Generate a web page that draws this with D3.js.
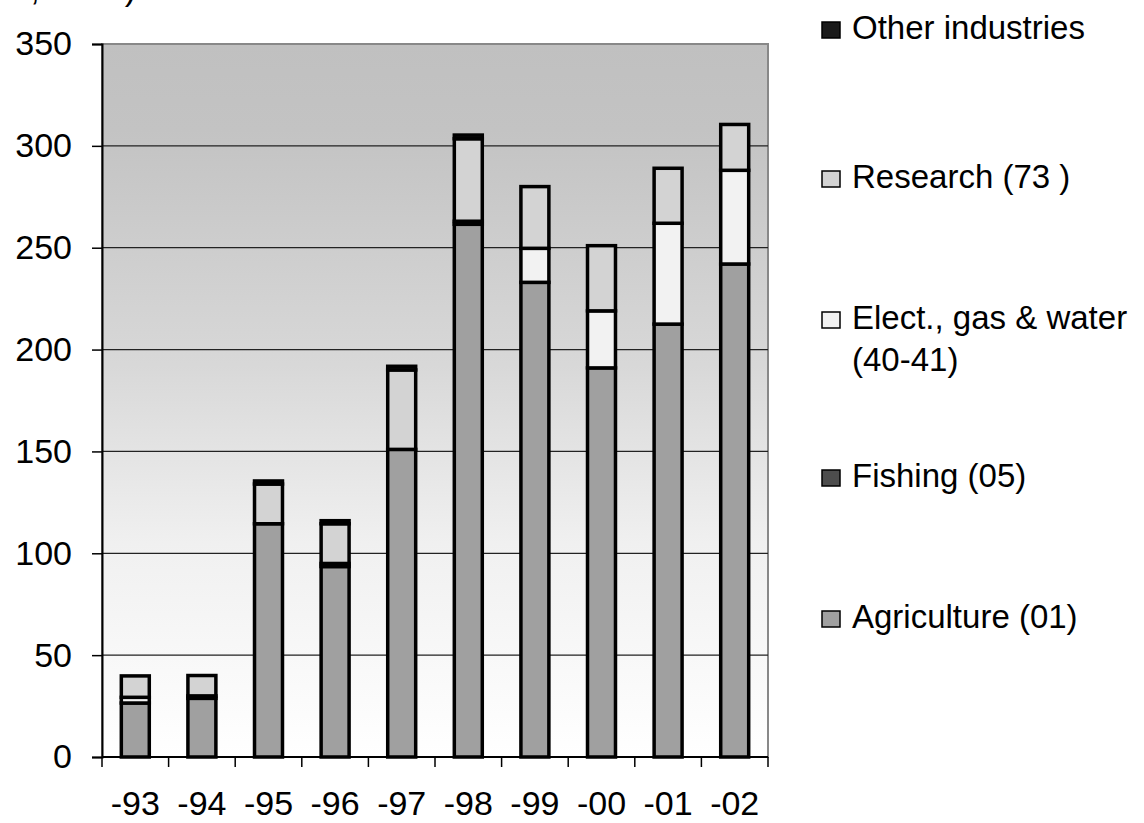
<!DOCTYPE html>
<html>
<head>
<meta charset="utf-8">
<script src="https://cdn.jsdelivr.net/npm/d3@7"></script>
<style>
  body { margin: 0; background: #fff; }
  text { font-family: "Liberation Sans", Arial, sans-serif; }
</style>
</head>
<body>
<svg id="chart" width="1144" height="823"></svg>
<script>
// categories (years) and tick values
var years = ['-93', '-94', '-95', '-96', '-97', '-98', '-99', '-00', '-01', '-02'];
var yTicks = [0, 50, 100, 150, 200, 250, 300, 350];

// series, bottom of the stack first
var seriesKeys = ['Agriculture (01)', 'Fishing (05)', 'Elect., gas & water (40-41)', 'Research (73 )', 'Other industries'];
var agriculture = [26.5, 28.8, 114.5, 93.5, 151, 261.5, 233, 191, 212.5, 242];
var fishing     = [0, 1.2, 0, 1.5, 0, 1.5, 0, 0, 0, 0];
var elect       = [2.8, 0, 0, 0, 0, 0, 16.7, 28, 49.5, 46];
var research    = [10.5, 10, 19.5, 19.5, 39, 40.5, 30.3, 32, 27, 22.5];
var other       = [0, 0, 1.5, 1.5, 1.8, 1.8, 0, 0, 0, 0];

var fills = ['#a0a0a0', '#4d4d4d', '#f2f2f2', '#d3d3d3', '#1a1a1a'];

document.addEventListener('DOMContentLoaded', function () {
    var rows = years.map(function (y, i) {
        var r = { year: y };
        r[seriesKeys[0]] = agriculture[i];
        r[seriesKeys[1]] = fishing[i];
        r[seriesKeys[2]] = elect[i];
        r[seriesKeys[3]] = research[i];
        r[seriesKeys[4]] = other[i];
        return r;
    });
    drawChart(rows);
});

function drawChart(rows) {
    const svg = d3.select('#chart');
    const margin = { top: 44, left: 102, right: 376, bottom: 66 };
    const width = 1144, height = 823;
    const x0 = margin.left, x1 = width - margin.right;
    const y0 = height - margin.bottom, y1 = margin.top;

    const x = d3.scaleBand().domain(years).range([x0, x1])
        .paddingInner(0.58).paddingOuter(0.29);
    const y = d3.scaleLinear().domain([0, 350]).range([y0, y1]);
    const color = d3.scaleOrdinal().domain(seriesKeys).range(fills);

    // plot background gradient
    const defs = svg.append('defs');
    const grad = defs.append('linearGradient').attr('id', 'bg')
        .attr('x1', 0).attr('y1', 0).attr('x2', 0).attr('y2', 1);
    grad.append('stop').attr('offset', '0%').attr('stop-color', '#c0c0c0');
    grad.append('stop').attr('offset', '12%').attr('stop-color', '#c3c3c3');
    grad.append('stop').attr('offset', '45%').attr('stop-color', '#d8d8d8');
    grad.append('stop').attr('offset', '70%').attr('stop-color', '#f0f0f0');
    grad.append('stop').attr('offset', '100%').attr('stop-color', '#ffffff');

    svg.append('rect')
        .attr('x', x0).attr('y', y1)
        .attr('width', x1 - x0).attr('height', y0 - y1)
        .attr('fill', 'url(#bg)')
        .attr('stroke', '#888').attr('stroke-width', 2);

    // gridlines
    svg.append('g').selectAll('line')
        .data(yTicks.filter(function (t) { return t > 0 && t < 350; }))
        .enter().append('line')
        .attr('x1', x0).attr('x2', x1)
        .attr('y1', function (d) { return y(d); })
        .attr('y2', function (d) { return y(d); })
        .attr('stroke', '#222').attr('stroke-width', 1.2);

    // stacked bars
    const stack = d3.stack().keys(seriesKeys);
    const layers = stack(rows);
    svg.append('g').selectAll('g')
        .data(layers)
        .enter().append('g')
        .attr('fill', function (d) { return color(d.key); })
        .selectAll('rect')
        .data(function (d) { return d.filter(function (s) { return s[1] - s[0] > 0; }); })
        .enter().append('rect')
        .attr('x', function (d) { return x(d.data.year); })
        .attr('width', x.bandwidth())
        .attr('y', function (d) { return y(d[1]); })
        .attr('height', function (d) { return y(d[0]) - y(d[1]); })
        .attr('stroke', '#000')
        .attr('stroke-width', 3.5);

    // y axis
    const yAxis = d3.axisLeft(y).tickValues(yTicks).tickSize(10).tickPadding(20);
    const gy = svg.append('g').attr('transform', 'translate(' + x0 + ',0)').call(yAxis);
    gy.select('.domain').attr('stroke', '#000').attr('stroke-width', 2);
    gy.selectAll('.tick line').attr('stroke', '#000').attr('stroke-width', 1.5);
    gy.selectAll('text').attr('font-size', 34).attr('fill', '#000')
        .style('font-family', '"Liberation Sans", Arial, sans-serif');

    // x axis: ticks sit between the categories
    const gx = svg.append('g').attr('transform', 'translate(0,' + y0 + ')');
    gx.append('line').attr('x1', x0).attr('x2', x1)
        .attr('stroke', '#000').attr('stroke-width', 2);
    const bounds = years.map(function (d) { return x(d) - x.step() * x.paddingInner() / 2; })
        .concat([x1]);
    gx.selectAll('.xt').data(bounds).enter().append('line')
        .attr('x1', function (d) { return d; }).attr('x2', function (d) { return d; })
        .attr('y1', 0).attr('y2', 10)
        .attr('stroke', '#000').attr('stroke-width', 1.5);
    gx.selectAll('.xl').data(years).enter().append('text')
        .attr('x', function (d) { return x(d) + x.bandwidth() / 2; })
        .attr('y', 58)
        .attr('text-anchor', 'middle')
        .attr('font-size', 34)
        .text(function (d) { return d; });

    // unit label, mostly cut off at the top edge
    svg.append('text')
        .attr('x', 136).attr('y', 0)
        .attr('text-anchor', 'end')
        .attr('font-size', 34)
        .text('(MSEK, 2002)');

    // legend, top entry is the top of the stack
    const legendRows = [
        { key: 'Other industries', lines: ['Other industries'], y: 39 },
        { key: 'Research (73 )', lines: ['Research (73 )'], y: 188 },
        { key: 'Elect., gas & water (40-41)', lines: ['Elect., gas & water', '(40-41)'], y: 329 },
        { key: 'Fishing (05)', lines: ['Fishing (05)'], y: 487 },
        { key: 'Agriculture (01)', lines: ['Agriculture (01)'], y: 628 }
    ];
    const lg = svg.append('g');
    const item = lg.selectAll('g').data(legendRows).enter().append('g')
        .attr('transform', function (d) { return 'translate(822,' + d.y + ')'; });
    item.append('rect')
        .attr('x', 0).attr('y', -17)
        .attr('width', 18).attr('height', 16)
        .attr('fill', function (d) { return color(d.key); })
        .attr('stroke', '#000').attr('stroke-width', 1.5);
    item.append('text')
        .attr('x', 30).attr('y', 0)
        .attr('font-size', 33)
        .selectAll('tspan').data(function (d) { return d.lines; })
        .enter().append('tspan')
        .attr('x', 30)
        .attr('dy', function (d, i) { return i === 0 ? 0 : 42; })
        .text(function (d) { return d; });
}
</script>
</body>
</html>
